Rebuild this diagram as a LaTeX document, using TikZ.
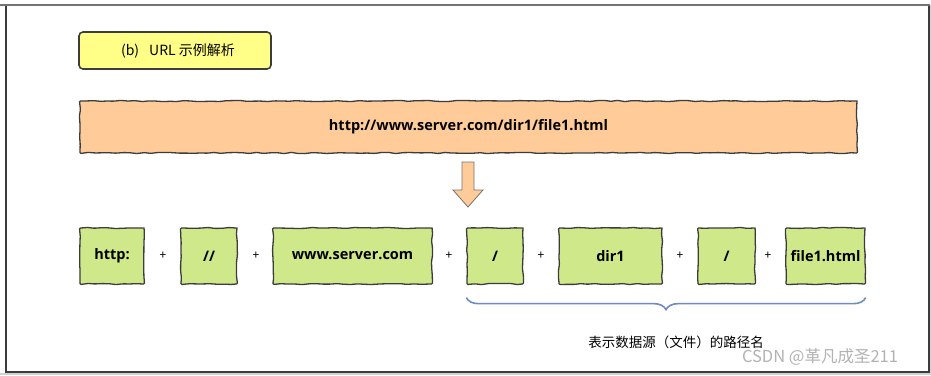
\documentclass[tikz,border=0pt]{standalone}
\usepackage{fontspec}
\setmainfont{Noto Sans CJK SC}
\newfontfamily\cjk{Noto Sans CJK SC}
\newfontfamily\cfont{Open Sans}
\usetikzlibrary{decorations.pathmorphing,decorations.pathreplacing}
\definecolor{greenbox}{RGB}{207,233,138}
\definecolor{orangebox}{RGB}{255,204,153}
\definecolor{yellowbox}{RGB}{255,255,136}
\definecolor{bracec}{RGB}{110,140,190}
\definecolor{edgec}{RGB}{60,60,60}
\begin{document}
\begin{tikzpicture}[x=1pt,y=-1pt,
  sketchy/.style={draw=edgec, line width=1.3pt, decorate,
    decoration={random steps,segment length=7pt,amplitude=0.6pt}, rounded corners=1pt},
  gbox/.style={sketchy, fill=greenbox, minimum height=56pt, inner sep=0pt,
    font=\cfont\bfseries\fontsize{14.5}{16}\selectfont},
  obox/.style={sketchy, fill=orangebox, minimum height=52pt, inner sep=0pt,
    font=\cfont\bfseries\fontsize{14.5}{16}\selectfont},
  ybox/.style={draw=edgec, line width=1.6pt, rounded corners=4pt, fill=yellowbox,
    minimum height=37pt, inner sep=0pt, font=\cjk\fontsize{14}{16}\selectfont},
  plus/.style={inner sep=1pt, font=\cjk\fontsize{12}{14}\selectfont},
  cjklabel/.style={inner sep=1pt, font=\cjk\fontsize{13.5}{15}\selectfont},
  bracestyle/.style={draw=bracec, line width=1.6pt, decorate,
    decoration={brace, mirror, amplitude=12pt, aspect=0.5}}
]
\pgfmathsetseed{7}
\useasboundingbox (0,0) rectangle (931,375);
% frame
\fill[black!18] (0,373) rectangle (931,375);
\fill[black!18] (930,5) rectangle (931,375);
\draw[edgec, line width=1.2pt] (6,5) rectangle (929,372);
\draw[black!55, line width=2pt] (0,5) -- (930,5);
% title
\node[ybox, minimum width=192pt] (title) at (175,50.5) {\hspace{6pt}(b)\hspace{10pt}URL 示例解析};
% full url
\node[obox, minimum width=777pt] (url) at (468.5,127) {http://www.server.com/dir1/file1.html};
% arrow
\draw[fill=orangebox, draw=black!55, line width=0.8pt]
  (462,162) -- (474,162) -- (474,190) -- (483,190) -- (468,207) -- (453,190) -- (462,190) -- cycle;
% parts
\node[gbox, minimum width=64pt] (g1) at (112,256) {http:};
\node[gbox, minimum width=56pt] (g2) at (209,256) {//};
\node[gbox, minimum width=159pt] (g3) at (352.5,256) {www.server.com};
\node[gbox, minimum width=56pt] (g4) at (495,256) {/};
\node[gbox, minimum width=103pt] (g5) at (610.5,256) {dir1};
\node[gbox, minimum width=57pt] (g6) at (726.5,256) {/};
\node[gbox, minimum width=79pt] (g7) at (825.5,256) {file1.html};
\node[plus] (p1) at (163,256) {+};
\node[plus] (p2) at (256,256) {+};
\node[plus] (p3) at (449,256) {+};
\node[plus] (p4) at (541,256) {+};
\node[plus] (p5) at (680,256) {+};
\node[plus] (p6) at (768,256) {+};
% brace
\draw[bracestyle] ([yshift=-13pt]g4.south west) -- ([yshift=-13pt]g7.south east);
\node[cjklabel] (lbl) at (676,342) {表示数据源（文件）的路径名};
\node[inner sep=0pt, text=black!30, font=\cjk\fontsize{16.5}{18}\selectfont] (wm) at (820,357) {CSDN @革凡成圣211};
\end{tikzpicture}
\end{document}
